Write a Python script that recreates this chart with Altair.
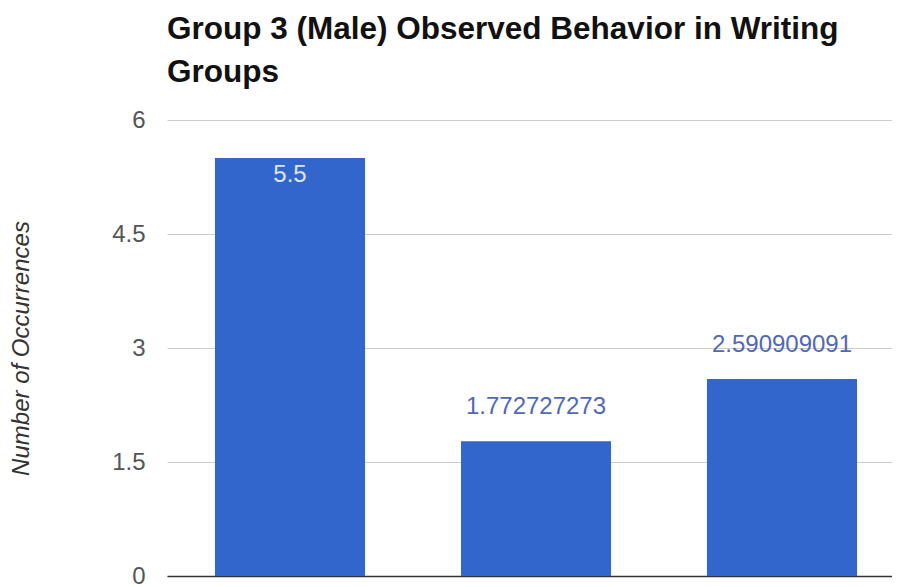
import altair as alt
import pandas as pd

categories = ["Category 1", "Category 2", "Category 3"]
values = [5.5, 1.772727273, 2.590909091]
labels = ["5.5", "1.772727273", "2.590909091"]
inside = [True, False, False]

df = pd.DataFrame({"cat": categories, "val": values, "lab": labels, "inside": inside})

FONT = "Liberation Sans"

x = alt.X("cat:N", sort=categories, title=None,
          scale=alt.Scale(range=[0, 738], paddingInner=0.39, paddingOuter=0.195),
          axis=alt.Axis(labels=False, ticks=False, domain=True, domainColor="#333333",
                        domainWidth=1.5, grid=False))
y = alt.Y("val:Q", title="Number of Occurrences",
          scale=alt.Scale(domain=[0, 6], nice=False),
          axis=alt.Axis(values=[0, 1.5, 3, 4.5, 6], format="~g", domain=False, ticks=False,
                        labelFont=FONT, labelFontSize=24, labelColor="#555555",
                        labelPadding=22, gridColor="#cccccc", gridWidth=1,
                        titleFont=FONT, titleFontSize=24, titleFontStyle="italic",
                        titleFontWeight="normal", titleColor="#333333",
                        titleX=-146, titleY=228, titleAngle=-90,
                        titleBaseline="middle", titleAlign="center"))

bars = alt.Chart(df).mark_bar(color="#3366cc").encode(x=x, y=y)

txt_in = alt.Chart(df).transform_filter("datum.inside").mark_text(
    font=FONT, fontSize=24, color="#dce6f8", baseline="middle", dy=17
).encode(x=alt.X("cat:N", sort=categories), y="val:Q", text="lab:N")

txt_out = alt.Chart(df).transform_filter("!datum.inside").mark_text(
    font=FONT, fontSize=24, color="#5068b8", baseline="middle", dy=-34
).encode(x=alt.X("cat:N", sort=categories), y="val:Q", text="lab:N")

chart = alt.layer(bars, txt_in, txt_out).properties(
    width=725, height=456,
    autosize=alt.AutoSizeParams(type="none"),
    padding={"left": 159, "top": 112, "right": 0, "bottom": 14},
    title=alt.TitleParams(
        text=["Group 3 (Male) Observed Behavior in Writing", "Groups"],
        font=FONT, fontSize=31.5, fontWeight="bold", color="#111111",
        anchor="start", frame="group", lineHeight=43, offset=20,
    ),
).configure_view(stroke=None)

chart.save("out.html", embed_options={"renderer": "svg", "actions": False})
